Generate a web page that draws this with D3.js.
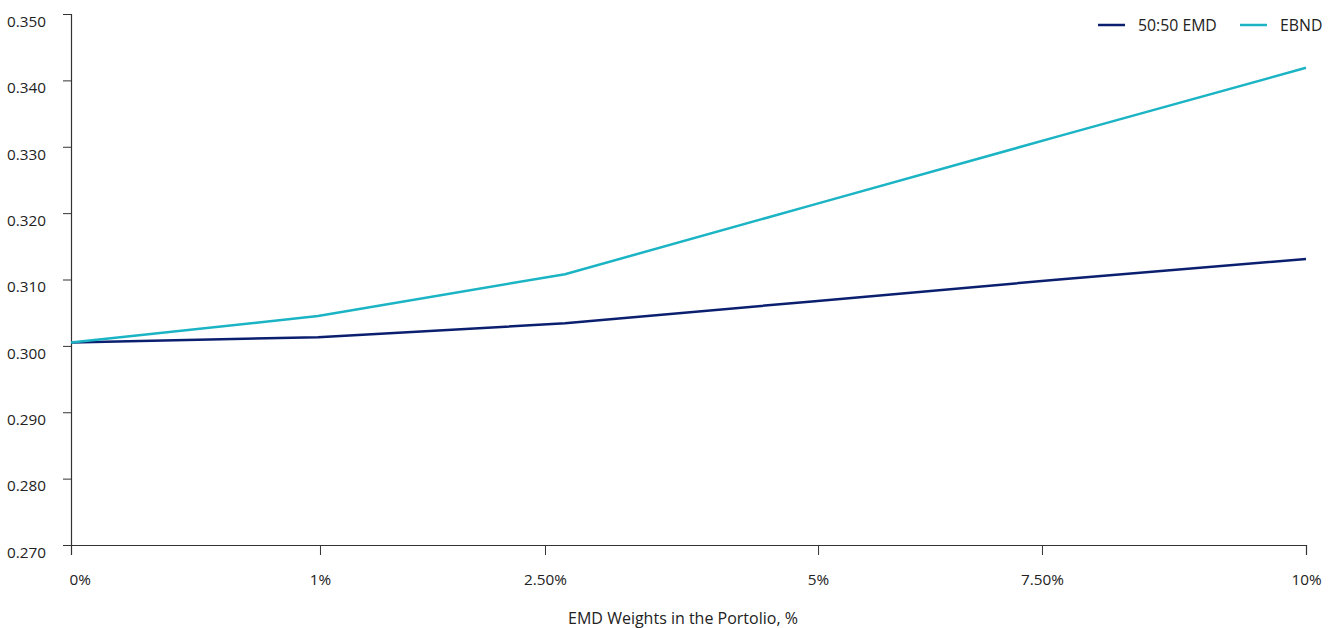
<!DOCTYPE html>
<html><head><meta charset="utf-8">
<script src="https://cdn.jsdelivr.net/npm/d3@7"></script>
<style>body{margin:0;background:#fff}svg{display:block;font-family:"Open Sans",sans-serif}</style>
</head><body><svg id="c" width="1341" height="628"></svg>
<script>
const categories = ["0%", "1%", "2.50%", "5%", "7.50%", "10%"];
const seriesNames = ["50:50 EMD", "EBND"];
const emd5050 = [0.3005, 0.3013, 0.3034, 0.3067, 0.3100, 0.3131];
const ebnd = [0.3005, 0.3045, 0.3108, 0.3212, 0.3316, 0.3419];
const yTicks = [0.270, 0.280, 0.290, 0.300, 0.310, 0.320, 0.330, 0.340, 0.350];
const xTitle = "EMD Weights in the Portolio, %";

const colors = ["#0b1f6f", "#1bb4c4"];
const svg = d3.select("#c");
const m = {l: 71, r: 35, t: 14, b: 83};
const W = 1341, H = 628;
const x = d3.scalePoint().domain(categories).range([m.l, W - m.r]);
const y = d3.scaleLinear().domain([0.270, 0.350]).range([H - m.b, m.t]);
// tick label positions along the axis, as in the original (fraction of axis length)
const tickFrac = [0, 0.2016, 0.3838, 0.6049, 0.7862, 1];
const xt = d3.scaleLinear().domain([0, 1]).range([m.l, W - m.r]);
const FS = "15.3px";

const axisColor = "#333";
const gy = svg.append("g").attr("transform", `translate(${m.l},0)`)
  .call(d3.axisLeft(y).tickValues(yTicks).tickFormat(d3.format(".3f")).tickSize(8).tickPadding(17));
const gx = svg.append("g").attr("transform", `translate(0,${H - m.b})`)
  .call(d3.axisBottom(xt).tickValues(tickFrac).tickFormat((d, i) => categories[i]).tickSize(10).tickPadding(19));
[gx, gy].forEach(g => {
  g.select(".domain").attr("stroke", axisColor).attr("stroke-width", 1.2);
  g.selectAll(".tick line").attr("stroke", axisColor);
  g.selectAll("text").attr("fill", "#222").style("font-size", FS).style("font-family", "'Open Sans',sans-serif");
});
gx.selectAll(".tick text").filter((d, i) => i === 0).attr("text-anchor", "start").attr("dx", -2);
gy.selectAll(".tick text").attr("dy", "0.8em");

svg.append("text").attr("x", 683).attr("y", 624).attr("text-anchor", "middle")
  .attr("fill", "#222").style("font-size", "16px").text(xTitle);

const line = d3.line().x((d, i) => x(categories[i])).y(d => y(d));
[emd5050, ebnd].forEach((s, k) => {
  svg.append("path").datum(s).attr("d", line).attr("fill", "none")
    .attr("stroke", colors[k]).attr("stroke-width", 2.5);
});

const leg = [{x: 1098}, {x: 1240}];
seriesNames.forEach((n, k) => {
  const g = svg.append("g").attr("transform", `translate(${leg[k].x},25)`);
  g.append("line").attr("x1", 0).attr("x2", 27).attr("stroke", colors[k]).attr("stroke-width", 2.5);
  g.append("text").attr("x", 40).attr("dy", "0.35em").attr("fill", "#222").style("font-size", "15.8px").text(n);
});
</script></body></html>
